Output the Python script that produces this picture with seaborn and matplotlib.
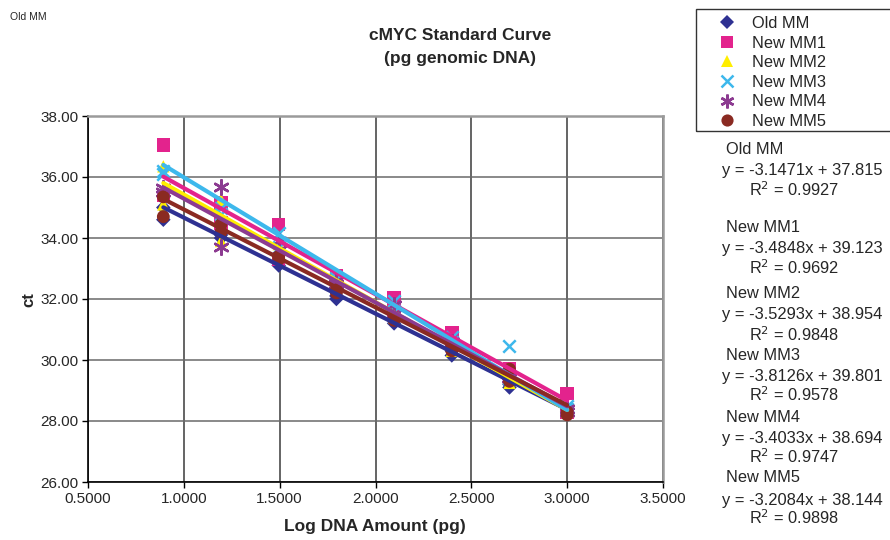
import numpy as np
import pandas as pd
import matplotlib
matplotlib.use("Agg")
import matplotlib.pyplot as plt
from matplotlib.patches import Rectangle
from matplotlib.lines import Line2D
import seaborn as sns

# ---------------- data ----------------
log_amount = [0.893, 1.194, 1.495, 1.796, 2.097, 2.398, 2.699, 3.000]
series_names = ["Old MM", "New MM1", "New MM2", "New MM3", "New MM4", "New MM5"]

# two replicate ct values per concentration (rep1 list, rep2 list)
old_mm_r1 = [35.00, 34.10, 33.25, 32.00, 31.20, 30.15, 29.10, 28.40]
old_mm_r2 = [34.60, 34.00, 33.10, 32.10, 31.30, 30.30, 29.20, 28.30]
new_mm1_r1 = [37.05, 35.15, 34.45, 32.75, 32.05, 30.90, 29.60, 28.90]
new_mm1_r2 = [35.40, 34.50, 33.30, 32.50, 31.60, 30.60, 29.70, 28.30]
new_mm2_r1 = [36.35, 35.25, 33.80, 32.40, 31.50, 30.50, 29.25, 28.40]
new_mm2_r2 = [35.10, 33.90, 33.50, 32.50, 31.40, 30.30, 29.40, 28.30]
new_mm3_r1 = [36.20, 35.00, 34.15, 32.70, 31.95, 30.75, 30.45, 28.50]
new_mm3_r2 = [36.10, 34.80, 33.70, 32.60, 31.60, 30.60, 29.40, 28.40]
new_mm4_r1 = [35.64, 35.68, 33.90, 32.50, 31.80, 30.60, 29.50, 28.40]
new_mm4_r2 = [35.50, 33.72, 33.60, 32.60, 31.50, 30.50, 29.40, 28.30]
new_mm5_r1 = [35.35, 34.45, 33.40, 32.30, 31.40, 30.50, 29.70, 28.30]
new_mm5_r2 = [34.70, 34.20, 33.30, 32.20, 31.30, 30.30, 29.30, 28.20]

slopes = [-3.1471, -3.4848, -3.5293, -3.8126, -3.4033, -3.2084]
intercepts = [37.815, 39.123, 38.954, 39.801, 38.694, 38.144]
r_squared = ["0.9927", "0.9692", "0.9848", "0.9578", "0.9747", "0.9898"]

x_ticks = [0.5, 1.0, 1.5, 2.0, 2.5, 3.0, 3.5]
y_ticks = [26, 28, 30, 32, 34, 36, 38]

reps = [(old_mm_r1, old_mm_r2), (new_mm1_r1, new_mm1_r2), (new_mm2_r1, new_mm2_r2),
        (new_mm3_r1, new_mm3_r2), (new_mm4_r1, new_mm4_r2), (new_mm5_r1, new_mm5_r2)]

rows = []
for name, (r1, r2) in zip(series_names, reps):
    for x, a, b in zip(log_amount, r1, r2):
        rows.append((name, x, a))
        rows.append((name, x, b))
df = pd.DataFrame(rows, columns=["series", "log_amount", "ct"])

# ---------------- style ----------------
sns.set_theme(style="white")
plt.rcParams["font.family"] = ["Liberation Sans", "DejaVu Sans"]

colors = ["#2E3192", "#E3238D", "#FFEE00", "#3DB8EC", "#8C3B91", "#8A2A22"]
markers = ["D", "s", "^", "x", (6, 2, 0), "o"]
msizes = [55, 95, 80, 80, 110, 85]

W, H = 890, 540
fig = plt.figure(figsize=(W / 100, H / 100), dpi=100)
ax = fig.add_axes([88 / W, 1 - 482 / H, (663 - 88) / W, (482 - 116) / H])

# markers
for i, name in enumerate(series_names):
    sub = df[df["series"] == name]
    filled = markers[i] not in ("x", (6, 2, 0))
    kw = dict(edgecolor="none") if filled else dict(linewidth=1.8)
    sns.scatterplot(data=sub, x="log_amount", y="ct", ax=ax, color=colors[i],
                    marker=markers[i], s=msizes[i], zorder=3 + i * 0.01,
                    legend=False, **kw)

# trend lines
xs = np.array([min(log_amount), max(log_amount)])
for i, name in enumerate(series_names):
    lf = pd.DataFrame({"x": xs, "y": slopes[i] * xs + intercepts[i]})
    sns.lineplot(data=lf, x="x", y="y", ax=ax, color=colors[i], linewidth=3.0,
                 zorder=4 + i * 0.01, legend=False)

ax.set_xlim(0.5, 3.5)
ax.set_ylim(26, 38)
ax.set_xticks(x_ticks)
ax.set_yticks(y_ticks)
ax.set_xticklabels([f"{v:.4f}" for v in x_ticks], fontsize=11)
ax.set_yticklabels([f"{v:.2f}" for v in y_ticks], fontsize=11)
ax.set_xlabel("")
ax.set_ylabel("")
ax.grid(True, axis="y", color="#6a6a6a", linewidth=1.1, zorder=0)
ax.grid(True, axis="x", color="#3a3a3a", linewidth=1.1, zorder=0)
ax.set_axisbelow(True)
ax.tick_params(axis="both", which="major", direction="out", length=4, width=1,
               color="black", pad=3, bottom=True, left=True)
for s in ["left", "bottom"]:
    ax.spines[s].set_color("black")
    ax.spines[s].set_linewidth(1.2)
for s in ["top", "right"]:
    ax.spines[s].set_color("#9a9a9a")
    ax.spines[s].set_linewidth(1.8)

# titles / labels
fig.text(460 / W, 1 - 36 / H, "cMYC Standard Curve", ha="center", va="center",
         fontsize=12.5, fontweight="bold")
fig.text(460 / W, 1 - 58.5 / H, "(pg genomic DNA)", ha="center", va="center",
         fontsize=12.5, fontweight="bold")
fig.text(10 / W, 1 - 17 / H, "Old MM", ha="left", va="center", fontsize=7.5)
fig.text(29 / W, 1 - 300 / H, "ct", ha="center", va="center", rotation=90,
         fontsize=12, fontweight="bold")
fig.text(375 / W, 1 - 527 / H, "Log DNA Amount (pg)", ha="center", va="center",
         fontsize=12.5, fontweight="bold")

# legend
handles = []
for i, name in enumerate(series_names):
    handles.append(Line2D([], [], linestyle="none", marker=markers[i], color=colors[i],
                          markersize=np.sqrt(msizes[i]) * 0.95,
                          markeredgewidth=1.8 if markers[i] in ("x", (6, 2, 0)) else 0))
leg = fig.legend(handles, series_names, loc="upper left",
                 bbox_to_anchor=(719 / W, 1 - 16 / H), frameon=False,
                 fontsize=11.8, handlelength=1.0, handletextpad=1.0,
                 labelspacing=0.28, borderpad=0, borderaxespad=0)
fig.patches.append(Rectangle((695.7 / W, 1 - 130.7 / H), (900 - 695.7) / W,
                             (130.7 - 9.3) / H, transform=fig.transFigure,
                             fill=False, edgecolor="#333333", linewidth=1.0))

# equation texts
ys = [(149.3, 170, 190), (227, 248, 268), (293, 315, 335),
      (355, 377, 395), (417, 438, 457), (477, 500, 518)]
for i, name in enumerate(series_names):
    yn, ye, yr = ys[i]
    fig.text(726 / W, 1 - yn / H, name, ha="left", va="center", fontsize=11.8)
    fig.text(722 / W, 1 - ye / H, f"y = {slopes[i]:.4f}x + {intercepts[i]:.3f}",
             ha="left", va="center", fontsize=11.9)
    fig.text(749 / W, 1 - yr / H, f"R$^2$ = {r_squared[i]}", ha="left", va="center",
             fontsize=11.8)

fig.savefig("out.png", dpi=100)
